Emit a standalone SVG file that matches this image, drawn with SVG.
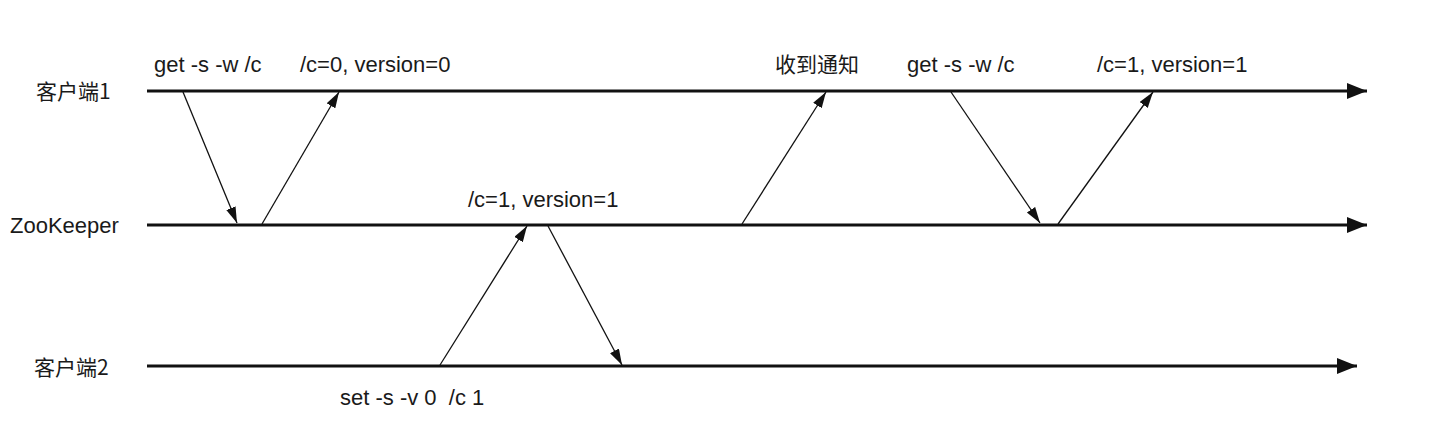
<svg xmlns="http://www.w3.org/2000/svg" width="1446" height="430" viewBox="0 0 1446 430">
<style>
  .t{font-family:"Liberation Sans","Noto Sans CJK SC",sans-serif;font-size:22px;fill:#1a1a1a}
  .cjk{font-family:"Noto Sans CJK SC","Liberation Sans",sans-serif;font-size:21px;fill:#1a1a1a}
  .life{stroke:#111;stroke-width:3;fill:none}
  .msg{stroke:#111;stroke-width:1.3;fill:none}
</style>
<defs>
  <marker id="big" markerUnits="userSpaceOnUse" markerWidth="21" markerHeight="17" refX="20" refY="8" orient="auto">
    <path d="M0,0 L20,8 L0,16 z" fill="#111"/>
  </marker>
  <marker id="small" markerUnits="userSpaceOnUse" markerWidth="17" markerHeight="11" refX="16" refY="5" orient="auto">
    <path d="M0,0 L16,5 L0,10 z" fill="#111"/>
  </marker>
</defs>
<rect width="1446" height="430" fill="#fff"/>
<g id="client1">
  <text class="cjk" x="36" y="99">客户端1</text>
  <line class="life" x1="147" y1="91" x2="1367" y2="91" marker-end="url(#big)"/>
</g>
<g id="zookeeper">
  <text class="t" x="10" y="233">ZooKeeper</text>
  <line class="life" x1="147" y1="225" x2="1367" y2="225" marker-end="url(#big)"/>
</g>
<g id="client2">
  <text class="cjk" x="34" y="375">客户端2</text>
  <line class="life" x1="147" y1="366" x2="1357" y2="366" marker-end="url(#big)"/>
</g>
<g id="labels">
  <text class="t" x="154" y="72">get -s -w /c</text>
  <text class="t" x="300" y="72">/c=0, version=0</text>
  <text class="cjk" x="775" y="72">收到通知</text>
  <text class="t" x="907" y="72">get -s -w /c</text>
  <text class="t" x="1097" y="72">/c=1, version=1</text>
  <text class="t" x="468" y="207">/c=1, version=1</text>
  <text class="t" x="340" y="405" xml:space="preserve">set -s -v 0  /c 1</text>
</g>
<g id="connectors">
  <line class="msg" x1="183" y1="92" x2="237" y2="223" marker-end="url(#small)"/>
  <line class="msg" x1="262" y1="224" x2="339" y2="92" marker-end="url(#small)"/>
  <line class="msg" x1="742" y1="224" x2="826" y2="92" marker-end="url(#small)"/>
  <line class="msg" x1="951" y1="92" x2="1040" y2="223" marker-end="url(#small)"/>
  <line class="msg" x1="1058" y1="224" x2="1153" y2="92" marker-end="url(#small)"/>
  <line class="msg" x1="440" y1="365" x2="527" y2="226" marker-end="url(#small)"/>
  <line class="msg" x1="548" y1="226" x2="622" y2="365" marker-end="url(#small)"/>
</g>
</svg>
